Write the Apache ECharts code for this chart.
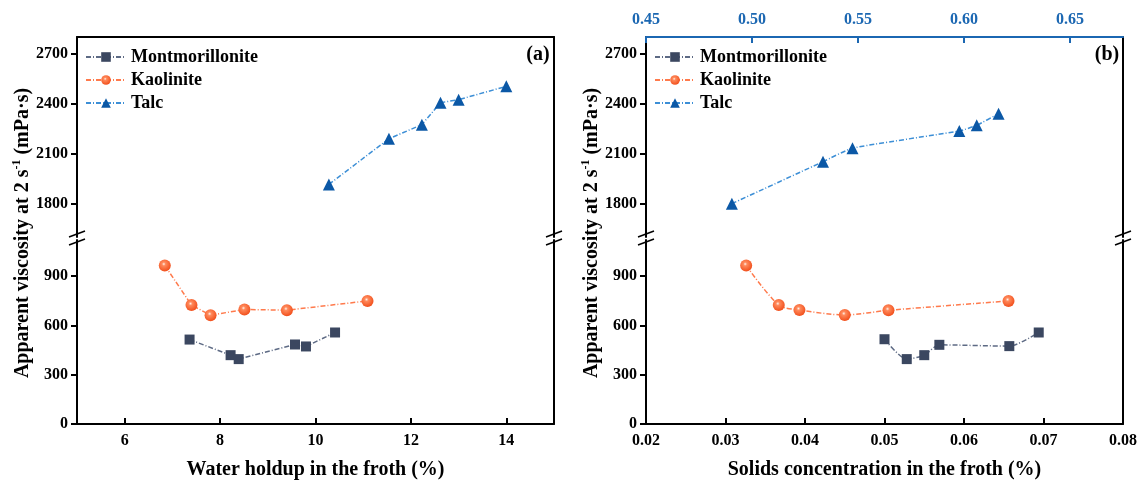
<!DOCTYPE html>
<html>
<head>
<meta charset="utf-8">
<script src="https://cdn.jsdelivr.net/npm/echarts@6/dist/echarts.min.js"></script>
<style>
html,body{margin:0;padding:0;background:#fff;}
#chart{width:1141px;height:482px;}
</style>
</head>
<body>
<div id="chart"></div>
<script>
// ---- Data ----
const seriesNames = ['Montmorillonite', 'Kaolinite', 'Talc'];

// Panel (a): water holdup in the froth (%)
const waterMont = [7.36, 8.22, 8.39, 9.57, 9.80, 10.41];
const viscMontA = [514, 419, 395, 484, 472, 557];
const waterKaol = [6.84, 7.40, 7.80, 8.51, 9.40, 11.09];
const viscKaolA = [965, 724, 662, 697, 693, 749];
const waterTalc = [10.28, 11.54, 12.23, 12.62, 13.00, 14.00];
const viscTalcA = [1915, 2190, 2274, 2406, 2424, 2504];

// Panel (b): solids concentration in the froth (%)
const solidsMont = [0.0500, 0.0528, 0.0550, 0.0569, 0.0657, 0.0694];
const viscMontB = [516, 395, 419, 482, 474, 557];
const solidsKaol = [0.0326, 0.0367, 0.0393, 0.0450, 0.0505, 0.0656];
const viscKaolB = [965, 724, 694, 664, 692, 749];
const solidsTalc = [0.4905, 0.5335, 0.5474, 0.5978, 0.6060, 0.6163]; // top axis
const viscTalcB = [1800, 2052, 2133, 2236, 2270, 2340];

// Tick labels
const ticksWater = [6, 8, 10, 12, 14];
const ticksSolids = [0.02, 0.03, 0.04, 0.05, 0.06, 0.07, 0.08];
const ticksSolidsTop = [0.45, 0.50, 0.55, 0.60, 0.65];
const ticksViscLow = [0, 300, 600, 900];
const ticksViscHigh = [1800, 2100, 2400, 2700];

// ---- Styles ----
const FONT = '"Liberation Serif", "Times New Roman", serif';
const BLUE = '#1b67b2';
const dashDot = [5, 2, 1, 2];
const pair = (xs, ys) => xs.map((x, i) => [x, ys[i]]);

const montStyle = {
  symbol: 'rect', symbolSize: 10,
  itemStyle: { color: '#3b4760' },
  lineStyle: { color: '#5d6a84', width: 1.5, type: dashDot }
};
const kaolStyle = {
  symbol: 'circle', symbolSize: 12,
  itemStyle: { color: { type: 'radial', x: 0.42, y: 0.38, r: 0.6, colorStops: [
    { offset: 0, color: '#fff2ea' }, { offset: 0.25, color: '#ff8a5c' }, { offset: 1, color: '#f2521f' }] } },
  lineStyle: { color: '#ff7a4c', width: 1.5, type: dashDot }
};
const talcStyle = {
  symbol: 'triangle', symbolSize: 12,
  itemStyle: { color: '#0b58a6' },
  lineStyle: { color: '#3d8fd6', width: 1.5, type: dashDot }
};

const GRID_A = { left: 77, right: 587 };
const GRID_B = { left: 646, right: 18 };
const UP = { top: 37, height: 200 };
const LOW = { top: 240, bottom: 58 };

const grids = [
  { left: GRID_A.left, right: GRID_A.right, top: UP.top, height: UP.height },
  { left: GRID_A.left, right: GRID_A.right, top: LOW.top, bottom: LOW.bottom },
  { left: GRID_B.left, right: GRID_B.right, top: UP.top, height: UP.height },
  { left: GRID_B.left, right: GRID_B.right, top: LOW.top, bottom: LOW.bottom }
];

const lineOnly = (color) => ({
  axisLine: { show: true, lineStyle: { color: color || '#000', width: 2 } },
  axisTick: { show: false }, axisLabel: { show: false }, splitLine: { show: false }
});
const labelFont = { fontFamily: FONT, fontWeight: 'bold', fontSize: 16, color: '#000' };
const nameFont = { fontFamily: FONT, fontWeight: 'bold', fontSize: 20, color: '#000' };

const xAxes = [
  Object.assign({ type: 'value', gridIndex: 0, position: 'top', min: 5, max: 15 }, lineOnly()),
  { type: 'value', gridIndex: 1, position: 'bottom', min: 5, max: 15,
    axisLine: { lineStyle: { color: '#000', width: 2 } },
    axisTick: { inside: true, length: 6, customValues: ticksWater, lineStyle: { color: '#000', width: 2 } },
    axisLabel: Object.assign({ customValues: ticksWater, margin: 9, formatter: v => String(v) }, labelFont),
    splitLine: { show: false },
    name: 'Water holdup in the froth (%)', nameLocation: 'middle', nameGap: 36, nameTextStyle: nameFont },
  { type: 'value', gridIndex: 2, position: 'top', min: 0.45, max: 0.675,
    axisLine: { lineStyle: { color: BLUE, width: 2 } },
    axisTick: { inside: true, length: 6, customValues: ticksSolidsTop, lineStyle: { color: BLUE, width: 2 } },
    axisLabel: Object.assign({}, labelFont, { color: BLUE, customValues: ticksSolidsTop, margin: 9,
      formatter: v => v.toFixed(2) }),
    splitLine: { show: false } },
  { type: 'value', gridIndex: 3, position: 'bottom', min: 0.02, max: 0.08,
    axisLine: { lineStyle: { color: '#000', width: 2 } },
    axisTick: { inside: true, length: 6, customValues: ticksSolids, lineStyle: { color: '#000', width: 2 } },
    axisLabel: Object.assign({ customValues: ticksSolids, margin: 9, formatter: v => v.toFixed(2) }, labelFont),
    splitLine: { show: false },
    name: 'Solids concentration in the froth (%)', nameLocation: 'middle', nameGap: 36, nameTextStyle: nameFont }
];

function leftY(grid, min, max, ticks) {
  return { type: 'value', gridIndex: grid, position: 'left', min: min, max: max,
    axisLine: { show: true, lineStyle: { color: '#000', width: 2 } },
    axisTick: { show: true, length: 6, customValues: ticks, lineStyle: { color: '#000', width: 2 } },
    axisLabel: Object.assign({ customValues: ticks, margin: 9, formatter: v => String(v) }, labelFont),
    splitLine: { show: false } };
}
function rightY(grid, min, max) {
  return Object.assign({ type: 'value', gridIndex: grid, position: 'right', min: min, max: max }, lineOnly());
}
const yAxes = [
  leftY(0, 1600, 2800, ticksViscHigh), rightY(0, 1600, 2800),
  leftY(1, 0, 1120, ticksViscLow), rightY(1, 0, 1120),
  leftY(2, 1600, 2800, ticksViscHigh), rightY(2, 1600, 2800),
  leftY(3, 0, 1120, ticksViscLow), rightY(3, 0, 1120)
];

function mk(name, style, xi, yi, data, smooth) {
  return Object.assign({ name: name, type: 'line', xAxisIndex: xi, yAxisIndex: yi,
    data: data, smooth: smooth || false, showSymbol: true, z: 3 }, style);
}
const series = [
  mk('Montmorillonite', montStyle, 1, 2, pair(waterMont, viscMontA)),
  mk('Kaolinite', kaolStyle, 1, 2, pair(waterKaol, viscKaolA)),
  mk('Talc', talcStyle, 0, 0, pair(waterTalc, viscTalcA)),
  mk('Montmorillonite', montStyle, 3, 6, pair(solidsMont, viscMontB), 0.25),
  mk('Kaolinite', kaolStyle, 3, 6, pair(solidsKaol, viscKaolB), 0.3),
  mk('Talc', talcStyle, 2, 4, pair(solidsTalc, viscTalcB), 0.15)
];

function legendAt(left) {
  return { data: seriesNames, orient: 'vertical', left: left, top: 43,
    itemWidth: 40, itemHeight: 12, itemGap: 5, selectedMode: false,
    textStyle: { fontFamily: FONT, fontWeight: 'bold', fontSize: 18, color: '#000' } };
}

// break marks and texts
function breakMark(x, y) {
  return { type: 'line', shape: { x1: x - 8, y1: y + 3, x2: x + 8, y2: y - 3 },
    style: { stroke: '#000', lineWidth: 1.5 }, z: 10 };
}
const breakXs = [77, 554, 646, 1123];
const graphics = [];
breakXs.forEach(x => { graphics.push(breakMark(x, 234)); graphics.push(breakMark(x, 242)); });
function yName(cx, cy) {
  return { type: 'text', x: cx, y: cy, rotation: Math.PI / 2,
    style: { text: '{a|Apparent viscosity at 2 s}{s|-1}{a| (mPa·s)}', align: 'center', verticalAlign: 'middle',
      rich: { a: { fontFamily: FONT, fontWeight: 'bold', fontSize: 20, fill: '#000', lineHeight: 22, verticalAlign: 'bottom' },
              s: { fontFamily: FONT, fontWeight: 'bold', fontSize: 12, fill: '#000', lineHeight: 22, verticalAlign: 'top', padding: [0, 0, 10, 0] } } } };
}
graphics.push(yName(22, 233));
graphics.push(yName(591, 233));
graphics.push({ type: 'text', x: 538, y: 55, style: { text: '(a)', align: 'center', verticalAlign: 'middle',
  font: 'bold 20px ' + FONT, fill: '#000' } });
graphics.push({ type: 'text', x: 1107, y: 55, style: { text: '(b)', align: 'center', verticalAlign: 'middle',
  font: 'bold 20px ' + FONT, fill: '#000' } });

const chart = echarts.init(document.getElementById('chart'), null, { renderer: 'canvas' });
chart.setOption({
  animation: false,
  backgroundColor: '#fff',
  grid: grids,
  xAxis: xAxes,
  yAxis: yAxes,
  legend: [legendAt(80), legendAt(649)],
  series: series,
  graphic: graphics
});
</script>
</body>
</html>
